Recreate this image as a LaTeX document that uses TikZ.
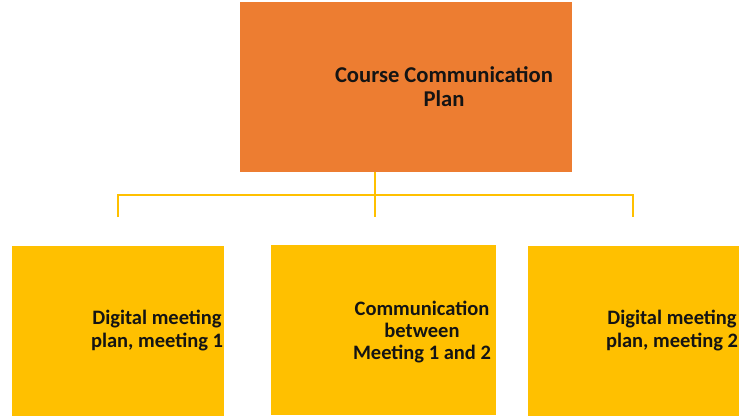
\documentclass[tikz,border=0pt]{standalone}
\usepackage{fontspec}
\setmainfont{Carlito}
\usepackage{xcolor}
\definecolor{plano}{HTML}{ED7D31}
\definecolor{meety}{HTML}{FFC000}
\definecolor{ink}{HTML}{141414}

\begin{document}
\begin{tikzpicture}[x=1pt, y=-1pt, font=\bfseries,
    topbox/.style={fill=plano, draw=none, minimum width=332pt, minimum height=170pt, inner sep=0pt},
    subbox/.style={fill=meety, draw=none, minimum height=170pt, inner sep=0pt},
    boxtext/.style={text=ink, align=center, inner sep=0pt},
    tree/.style={draw=meety, line width=2pt}]
  \useasboundingbox (0,0) rectangle (750,420);

  % the plan on top
  \node[topbox] (plan) at (406,87) {};
  \node[boxtext, font=\fontsize{22.6}{24}\selectfont\bfseries] (planlbl) at (444,87)
    {Course Communication\\Plan};

  % the three meetings below
  \node[subbox, minimum width=212pt] (meet1) at (118,331) {};
  \node[subbox, minimum width=225pt] (between) at (383.5,330) {};
  \node[subbox, minimum width=211pt] (meet2) at (633.5,331) {};
  \node[boxtext, font=\fontsize{20.5}{23}\selectfont\bfseries] (meet1lbl) at (157,331)
    {Digital meeting\\plan, meeting 1};
  \node[boxtext, font=\fontsize{20.5}{22}\selectfont\bfseries] (betweenlbl) at (422,332)
    {Communication\\between\\Meeting 1 and 2};
  \node[boxtext, font=\fontsize{20.5}{23}\selectfont\bfseries] (meet2lbl) at (672,331)
    {Digital meeting\\plan, meeting 2};

  % the branching lines, left open above the boxes
  \coordinate (hub) at (375,195);
  \coordinate (end1) at (118,217);
  \coordinate (endm) at (375,217);
  \coordinate (end2) at (633,217);
  \draw[tree] (hub |- plan.south) -- (hub) -- (endm);
  \draw[tree] (end1) -- (end1 |- hub) -- (end2 |- hub) -- (end2);
\end{tikzpicture}
\end{document}
